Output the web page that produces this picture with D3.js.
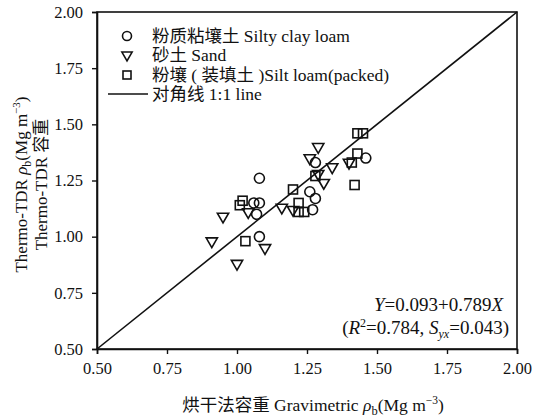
<!DOCTYPE html>
<html><head><meta charset="utf-8">
<script src="https://cdn.jsdelivr.net/npm/d3@7"></script>
<style>
body{margin:0;background:#fff;}
text{font-family:"Liberation Serif","Noto Sans CJK SC",serif;fill:#111;}
</style></head>
<body><svg id="c" width="534" height="420"></svg>
<script>
// Data (Gravimetric x, Thermo-TDR y)
const siltyClayLoam = [[1.08,1.26],[1.06,1.15],[1.08,1.15],[1.07,1.10],[1.08,1.00],[1.26,1.20],[1.28,1.17],[1.27,1.12],[1.28,1.33],[1.46,1.35]];
const sand = [[0.95,1.09],[0.91,0.98],[1.00,0.88],[1.10,0.95],[1.04,1.11],[1.16,1.13],[1.20,1.12],[1.29,1.40],[1.26,1.35],[1.34,1.31],[1.31,1.24],[1.40,1.33],[1.29,1.28]];
const siltLoamPacked = [[1.02,1.16],[1.01,1.14],[1.03,0.98],[1.20,1.21],[1.22,1.15],[1.22,1.11],[1.24,1.11],[1.28,1.27],[1.43,1.46],[1.45,1.46],[1.43,1.37],[1.41,1.33],[1.42,1.23]];
const tickValues = [0.50,0.75,1.00,1.25,1.50,1.75,2.00];
const legendLabels = ["粉质粘壤土 Silty clay loam","砂土 Sand","粉壤 ( 装填土 )Silt loam(packed)","对角线 1:1 line"];

const svg = d3.select("#c");
const L=97,R=517,T=12,B=349;
const x = d3.scaleLinear().domain([0.5,2]).range([L,R]);
const y = d3.scaleLinear().domain([0.5,2]).range([B,T]);

// frame
svg.append("rect").attr("x",L).attr("y",T).attr("width",R-L).attr("height",B-T)
  .attr("fill","none").attr("stroke","#111").attr("stroke-width",1.6);

const xa = svg.append("g").attr("transform",`translate(0,${B})`)
  .call(d3.axisBottom(x).tickValues(tickValues).tickFormat(d3.format(".2f")).tickSize(5).tickPadding(8));
const ya = svg.append("g").attr("transform",`translate(${L},0)`)
  .call(d3.axisLeft(y).tickValues(tickValues).tickFormat(d3.format(".2f")).tickSize(5).tickPadding(9));
[xa,ya].forEach(a=>{
  a.select(".domain").attr("stroke","#111").attr("stroke-width",1.6);
  a.selectAll(".tick line").attr("stroke","#111").attr("stroke-width",1.4);
  a.selectAll(".tick text").style("font-family","Liberation Serif").style("font-size","16.5px").attr("fill","#111");
});

// diagonal
svg.append("line").attr("x1",x(0.5)).attr("y1",y(0.5)).attr("x2",x(2)).attr("y2",y(2))
  .attr("stroke","#111").attr("stroke-width",1.6);

const sw=1.6;
svg.append("g").selectAll("circle").data(siltyClayLoam).join("circle")
  .attr("cx",d=>x(d[0])).attr("cy",d=>y(d[1])).attr("r",5)
  .attr("fill","none").attr("stroke","#111").attr("stroke-width",sw);
svg.append("g").selectAll("rect").data(siltLoamPacked).join("rect")
  .attr("x",d=>x(d[0])-4.5).attr("y",d=>y(d[1])-4.5).attr("width",9).attr("height",9)
  .attr("fill","none").attr("stroke","#111").attr("stroke-width",sw);
const tri = d3.symbol().type(d3.symbolTriangle).size(55);
svg.append("g").selectAll("path").data(sand).join("path")
  .attr("d",tri).attr("transform",d=>`translate(${x(d[0])},${y(d[1])}) rotate(180)`)
  .attr("fill","none").attr("stroke","#111").attr("stroke-width",sw);

// legend
const lg = svg.append("g");
const ly=[36,55,75,94], mx=127, tx=152;
lg.append("circle").attr("cx",mx).attr("cy",ly[0]).attr("r",4.5).attr("fill","none").attr("stroke","#111").attr("stroke-width",sw);
lg.append("path").attr("d",d3.symbol().type(d3.symbolTriangle).size(45)).attr("transform",`translate(${mx},${ly[1]}) rotate(180)`).attr("fill","none").attr("stroke","#111").attr("stroke-width",sw);
lg.append("rect").attr("x",mx-4).attr("y",ly[2]-4).attr("width",8).attr("height",8).attr("fill","none").attr("stroke","#111").attr("stroke-width",sw);
lg.append("line").attr("x1",108).attr("x2",148).attr("y1",ly[3]).attr("y2",ly[3]).attr("stroke","#111").attr("stroke-width",1.6);
legendLabels.forEach((t,i)=>{
  lg.append("text").attr("x",tx).attr("y",ly[i]).attr("dy","0.35em").style("font-size","17.5px").text(t);
});

// equation
const eq = svg.append("g").style("font-size","19px");
const e1 = eq.append("text").attr("x",503).attr("y",311).attr("text-anchor","end");
e1.append("tspan").style("font-style","italic").text("Y");
e1.append("tspan").text("=0.093+0.789");
e1.append("tspan").style("font-style","italic").text("X");
const e2 = eq.append("text").attr("x",509).attr("y",334).attr("text-anchor","end");
e2.append("tspan").text("(");
e2.append("tspan").style("font-style","italic").text("R");
e2.append("tspan").attr("dy",-7).style("font-size","12px").text("2");
e2.append("tspan").attr("dy",7).text("=0.784, ");
e2.append("tspan").style("font-style","italic").text("S");
e2.append("tspan").attr("dy",4).style("font-size","12px").style("font-style","italic").text("yx");
e2.append("tspan").attr("dy",-4).text("=0.043)");

// x label
const xl = svg.append("text").attr("x",(L+R)/2+6).attr("y",411).attr("text-anchor","middle").style("font-size","17.5px");
xl.append("tspan").text("烘干法容重 Gravimetric ");
xl.append("tspan").style("font-style","italic").text("ρ");
xl.append("tspan").attr("dy",4).style("font-size","12.5px").text("b");
xl.append("tspan").attr("dy",-4).text("(Mg m");
xl.append("tspan").attr("dy",-7).style("font-size","11.5px").text("−3");
xl.append("tspan").attr("dy",7).text(")");

// y labels
const yc=(T+B)/2+4;
const yl1 = svg.append("text").attr("transform",`translate(27,${yc}) rotate(-90)`).attr("text-anchor","middle").style("font-size","17px");
yl1.append("tspan").text("Thermo-TDR ");
yl1.append("tspan").style("font-style","italic").text("ρ");
yl1.append("tspan").attr("dy",4).style("font-size","12px").text("b");
yl1.append("tspan").attr("dy",-4).text("(Mg m");
yl1.append("tspan").attr("dy",-7).style("font-size","11px").text("−3");
yl1.append("tspan").attr("dy",7).text(")");
svg.append("text").attr("transform",`translate(47,${yc}) rotate(-90)`).attr("text-anchor","middle").style("font-size","17px").text("Thermo-TDR 容重");
</script></body></html>
